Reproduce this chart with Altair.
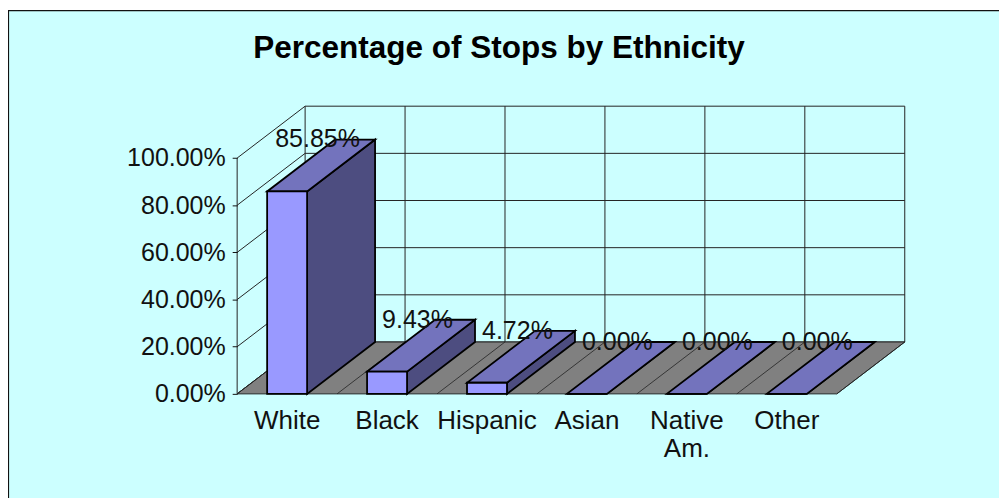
import altair as alt
import pandas as pd

CATEGORIES = ["White", "Black", "Hispanic", "Asian", "Native\nAm.", "Other"]
VALUES = [0.8585, 0.0943, 0.0472, 0.0, 0.0, 0.0]
TICKS = [0.0, 0.2, 0.4, 0.6, 0.8, 1.0]
TITLE = "Percentage of Stops by Ethnicity"

DX, DY = 0.68, 0.22  # oblique depth, in category units and value units
BAR_L, BAR_R = 0.3, 0.7
N = len(CATEGORIES)
FONT = "Liberation Sans"
W, H = 673, 290

xs = alt.Scale(domain=[0, N + DX], nice=False, zero=False)
ys = alt.Scale(domain=[0, 1 + DY], nice=False, zero=False)
y_axis = alt.Axis(values=TICKS, format=".2%", domain=False, grid=False, tickColor="#111111", tickSize=5,
                  labelFont=FONT, labelFontSize=25.2, labelColor="#111111", labelPadding=7, title=None, zindex=1)
X = lambda f: alt.X(f, type="quantitative", scale=xs, axis=None)
Y = lambda f: alt.Y(f, type="quantitative", scale=ys, axis=y_axis)

# frame
one = pd.DataFrame({"a": [0]})
frame = alt.Chart(one).mark_rect(
    fill="#CCFFFF", stroke="#111111", strokeWidth=1.2
).encode(x=alt.value(-230.5), x2=alt.value(800), y=alt.value(-96.4), y2=alt.value(420))

title = alt.Chart(pd.DataFrame({"t": [TITLE]})).mark_text(
    font=FONT, fontSize=31.75, fontWeight="bold", color="#000000", align="center", baseline="alphabetic"
).encode(x=alt.value(264), y=alt.value(-48.3), text="t:N")

# floor
floor_df = pd.DataFrame({"x": [0, DX], "x2": [N, N + DX], "y": [0, DY]})
floor = alt.Chart(floor_df).mark_area(orient="horizontal", fill="#808080", stroke="#222222", strokeWidth=1).encode(
    x=X("x"), x2="x2", y=Y("y"))

# wall lines
rows = []
k = 0
for t in TICKS:
    rows += [dict(id=k, x=DX, y=t + DY), dict(id=k, x=N + DX, y=t + DY)]; k += 1       # back horizontal
    rows += [dict(id=k, x=0, y=t), dict(id=k, x=DX, y=t + DY)]; k += 1                  # left wall diagonal
for i in range(N + 1):
    rows += [dict(id=k, x=i + DX, y=DY), dict(id=k, x=i + DX, y=1 + DY)]; k += 1        # back vertical
rows += [dict(id=k, x=0, y=0), dict(id=k, x=0, y=1)]; k += 1                            # front axis
wall = alt.Chart(pd.DataFrame(rows)).mark_line(color="#222222", strokeWidth=1).encode(
    x=X("x"), y=Y("y"), detail="id:N")

floor_rows = []
for i in range(N + 1):
    floor_rows += [dict(id=i, x=i, y=0), dict(id=i, x=i + DX, y=DY)]
floor_lines = alt.Chart(pd.DataFrame(floor_rows)).mark_line(color="#222222", strokeWidth=0.8).encode(
    x=X("x"), y=Y("y"), detail="id:N")

# bars
top, side, front = [], [], []
for i, v in enumerate(VALUES):
    l, r = i + BAR_L, i + BAR_R
    top += [dict(id=i, x=l, x2=r, y=v), dict(id=i, x=l + DX, x2=r + DX, y=v + DY)]
    side += [dict(id=i, x=r, y=v, y2=0), dict(id=i, x=r + DX, y=v + DY, y2=DY)]
    front += [dict(id=i, x=l, x2=r, y=v, y2=0)]
STROKE = dict(stroke="#000000", strokeWidth=1.8)
side_l = alt.Chart(pd.DataFrame(side)).mark_area(orient="vertical", fill="#4D4D80", **STROKE).encode(
    x=X("x"), y=Y("y"), y2="y2", detail="id:N")
top_l = alt.Chart(pd.DataFrame(top)).mark_area(orient="horizontal", fill="#7373BD", **STROKE).encode(
    x=X("x"), x2="x2", y=Y("y"), detail="id:N")
front_l = alt.Chart(pd.DataFrame(front)).mark_rect(fill="#9999FF", **STROKE).encode(
    x=X("x"), x2="x2", y=Y("y"), y2="y2")

# labels
lab_df = pd.DataFrame({"x": [i + 0.5 for i in range(N)], "v": VALUES,
                       "t": [f"{v:.2%}" for v in VALUES], "c": CATEGORIES, "z": [0] * N})
labels = alt.Chart(lab_df).mark_text(font=FONT, fontSize=25.2, color="#111111", dx=30.7, dy=-44.4,
                                     baseline="alphabetic", align="center").encode(
    x=X("x"), y=Y("v"), text="t:N")
cats = alt.Chart(lab_df).mark_text(font=FONT, fontSize=26.2, color="#111111", dy=35.3, lineHeight=28.2,
                                   lineBreak="\n", baseline="alphabetic", align="center").encode(
    x=X("x"), y=Y("z"), text="c:N")

chart = alt.layer(frame, title, wall, floor, floor_lines, side_l, top_l, front_l, labels, cats).properties(
    width=W, height=H,
    background="#FFFFFF",
    autosize=alt.AutoSizeParams(type="none"),
    padding={"left": 231, "top": 97, "right": 95, "bottom": 103},
).configure_view(stroke=None)

chart.save("out.html", embed_options={"renderer": "svg", "actions": False})
